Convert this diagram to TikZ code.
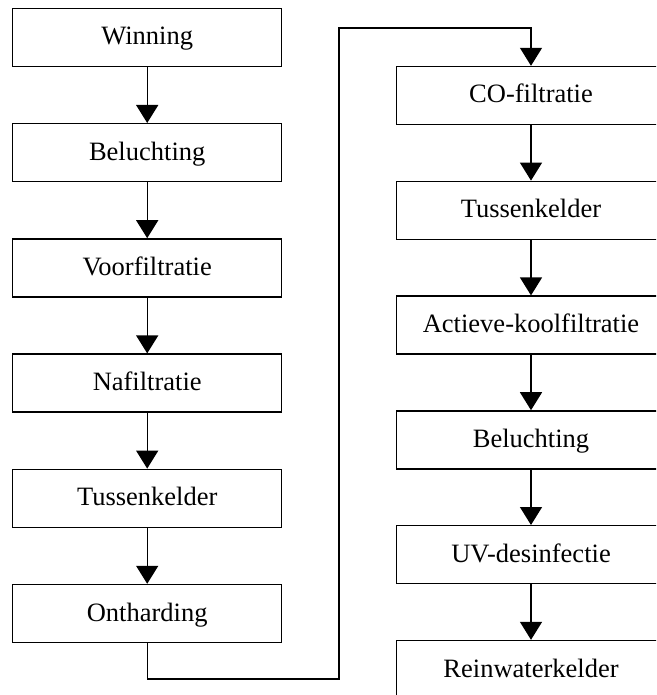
\documentclass[tikz,border=0pt]{standalone}
\usepackage{fontspec}
\setmainfont{Liberation Serif}
\usetikzlibrary{arrows.meta}
\begin{document}
\begin{tikzpicture}[x=1pt,y=-1pt,
  stepbox/.style={draw, line width=1.4pt, minimum width=269pt, minimum height=58pt,
    inner sep=0pt, text height=20pt, text depth=5pt,
    font=\fontsize{26.5}{30}\selectfont},
  flow/.style={line width=1.4pt, -{Triangle[length=18pt,width=22pt]}}
]
\useasboundingbox (0,0) rectangle (656,695);
\clip (0,0) rectangle (656,695);
% left column
\foreach \n/\t [count=\i from 0] in {l1/Winning, l2/Beluchting, l3/Voorfiltratie,
    l4/Nafiltratie, l5/Tussenkelder, l6/Ontharding}
  \node[stepbox] (\n) at (147.2, {37.5 + 115.2*\i}) {\t};
% right column
\foreach \n/\t [count=\i from 0] in {r1/CO-filtratie, r2/Tussenkelder,
    r3/Actieve-koolfiltratie, r4/Beluchting, r5/UV-desinfectie, r6/Reinwaterkelder}
  \node[stepbox] (\n) at (531, {95.5 + 114.8*\i}) {\t};
% arrows within each column
\foreach \a/\b in {l1/l2, l2/l3, l3/l4, l4/l5, l5/l6, r1/r2, r2/r3, r3/r4, r4/r5, r5/r6}
  \draw[flow] (\a.south) -- (\b.north);
% link from the last left step to the first right step
\coordinate (lowturn) at (339, 679);
\coordinate (highturn) at (339, 28);
\draw[flow] (l6.south) |- (lowturn) -- (highturn) -| (r1.north);
\end{tikzpicture}
\end{document}
